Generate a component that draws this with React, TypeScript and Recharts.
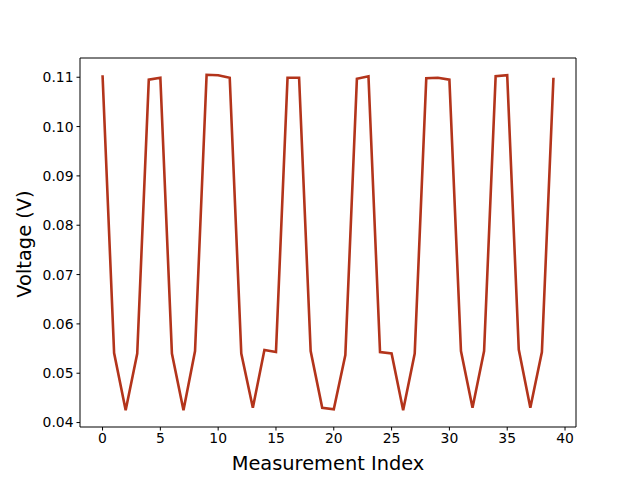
import { LineChart, Line, XAxis, YAxis, Label, ReferenceLine } from 'recharts';

const indices = Array.from({ length: 40 }, (_, i) => i);

const voltage = [
  0.1104, 0.0541, 0.0425, 0.0540, 0.1095, 0.1099, 0.0540, 0.0425, 0.0545, 0.1105,
  0.1104, 0.1099, 0.0540, 0.0430, 0.0547, 0.0543, 0.1099, 0.1099, 0.0545, 0.0430,
  0.0427, 0.0537, 0.1097, 0.1102, 0.0543, 0.0540, 0.0425, 0.0540, 0.1098, 0.1099,
  0.1095, 0.0545, 0.0430, 0.0545, 0.1102, 0.1104, 0.0548, 0.0430, 0.0543, 0.1099,
];

const xTicks = [0, 5, 10, 15, 20, 25, 30, 35, 40];
const yTicks = [0.04, 0.05, 0.06, 0.07, 0.08, 0.09, 0.1, 0.11];
const xDomain: [number, number] = [-1.95, 40.95];
const yDomain: [number, number] = [0.0391, 0.1139];

const data = indices.map((i) => ({ idx: i, v: voltage[i] }));

const font = 'DejaVu Sans, sans-serif';
const tickStyle = { fill: '#000', fontSize: 13.9, fontFamily: font };

export default function App() {
  return (
    <div style={{ position: 'absolute', left: 0, top: 0, background: '#fff' }}>
      <LineChart
        width={640}
        height={480}
        data={data}
        margin={{ top: 58, right: 64, left: 20, bottom: 13 }}
      >
        <XAxis
          dataKey="idx"
          type="number"
          domain={xDomain}
          ticks={xTicks}
          allowDataOverflow
          height={40}
          tick={tickStyle}
          tickSize={3.5}
          tickMargin={3}
          stroke="#000"
          axisLine={{ stroke: '#000', strokeWidth: 1 }}
          tickLine={{ stroke: '#000' }}
        >
          <Label
            content={() => (
              <text x={328} y={470} textAnchor="middle" fontSize={19.4} fontFamily={font} fill="#000">
                Measurement Index
              </text>
            )}
          />
        </XAxis>
        <YAxis
          type="number"
          domain={yDomain}
          ticks={yTicks}
          allowDataOverflow
          width={60}
          tick={tickStyle}
          tickFormatter={(v: number) => v.toFixed(2)}
          tickSize={3.5}
          tickMargin={3}
          stroke="#000"
          axisLine={{ stroke: '#000', strokeWidth: 1 }}
          tickLine={{ stroke: '#000' }}
        >
          <Label
            content={() => (
              <text
                x={24}
                y={244}
                transform="rotate(-90 24 244)"
                textAnchor="middle"
                dominantBaseline="central"
                fontSize={19.4}
                fontFamily={font}
                fill="#000"
              >
                Voltage (V)
              </text>
            )}
          />
        </YAxis>
        {/* top and right spines */}
        <ReferenceLine y={yDomain[1]} stroke="#000" strokeWidth={1} ifOverflow="visible" />
        <ReferenceLine x={xDomain[1]} stroke="#000" strokeWidth={1} ifOverflow="visible" />
        <Line
          type="linear"
          dataKey="v"
          stroke="#b3341b"
          strokeWidth={2.6}
          dot={false}
          isAnimationActive={false}
        />
      </LineChart>
    </div>
  );
}
